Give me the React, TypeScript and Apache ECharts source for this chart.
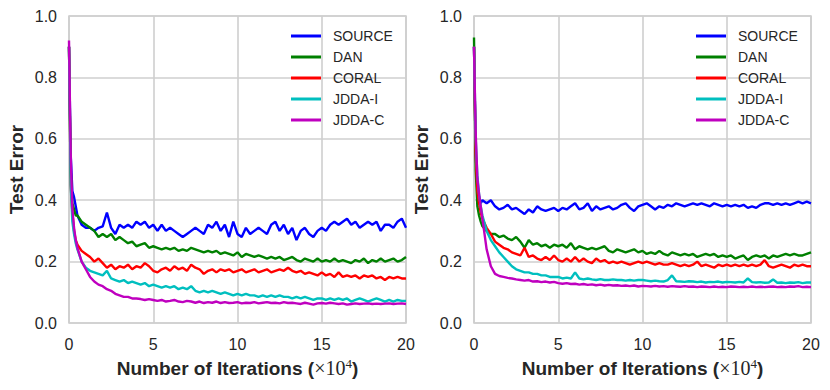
import React, { useEffect, useRef } from "react";
import * as echarts from "echarts";

// x positions (×10^4 iterations)
const X = [
  0, 0.1, 0.2, 0.3, 0.4, 0.5,
  0.75, 1,
  1.25, 1.5, 1.75, 2,
  2.25, 2.5, 2.75, 3,
  3.25, 3.5, 3.75, 4,
  4.25, 4.5, 4.75, 5,
  5.25, 5.5, 5.75, 6,
  6.25, 6.5, 6.75, 7,
  7.25, 7.5, 7.75, 8,
  8.25, 8.5, 8.75, 9,
  9.25, 9.5, 9.75, 10,
  10.25, 10.5, 10.75, 11,
  11.25, 11.5, 11.75, 12,
  12.25, 12.5, 12.75, 13,
  13.25, 13.5, 13.75, 14,
  14.25, 14.5, 14.75, 15,
  15.25, 15.5, 15.75, 16,
  16.25, 16.5, 16.75, 17,
  17.25, 17.5, 17.75, 18,
  18.25, 18.5, 18.75, 19,
  19.25, 19.5, 19.75, 20,
];

const NAMES = ["SOURCE", "DAN", "CORAL", "JDDA-I", "JDDA-C"];
const COLORS = ["#0000ff", "#008000", "#ff0000", "#00bfbf", "#bf00bf"];
const X_TICKS = [0, 5, 10, 15, 20];
const Y_TICKS = [0, 0.2, 0.4, 0.6, 0.8, 1.0];

// ---- left panel ----
const LEFT_SOURCE = [
  0.9, 0.55, 0.43, 0.41, 0.38, 0.35,
  0.32, 0.31,
  0.31, 0.3, 0.31, 0.315,
  0.36, 0.31, 0.29, 0.32,
  0.31, 0.32, 0.31, 0.33,
  0.32, 0.33, 0.31, 0.32,
  0.3, 0.32, 0.3, 0.31,
  0.3, 0.29, 0.28, 0.29,
  0.3, 0.31, 0.3, 0.29,
  0.32, 0.31, 0.33, 0.3,
  0.32, 0.28, 0.33, 0.29,
  0.28, 0.31, 0.29, 0.3,
  0.31, 0.3, 0.29, 0.32,
  0.33, 0.3, 0.32, 0.29,
  0.31, 0.27, 0.3, 0.31,
  0.29, 0.28, 0.3, 0.31,
  0.3, 0.32, 0.33, 0.32,
  0.33, 0.34, 0.32, 0.33,
  0.31, 0.32, 0.33, 0.32,
  0.33, 0.3, 0.32, 0.32,
  0.31, 0.33, 0.34, 0.31,
];
const LEFT_DAN = [
  0.9, 0.5, 0.39, 0.37, 0.35, 0.35,
  0.33, 0.32,
  0.31, 0.3, 0.28, 0.29,
  0.28, 0.29, 0.27, 0.28,
  0.27, 0.26, 0.265, 0.25,
  0.255, 0.26, 0.245, 0.25,
  0.245, 0.24, 0.245, 0.24,
  0.245, 0.235, 0.24, 0.235,
  0.245, 0.24, 0.235, 0.23,
  0.235, 0.23, 0.235, 0.225,
  0.23, 0.225, 0.22, 0.23,
  0.215, 0.225, 0.22, 0.215,
  0.22, 0.215, 0.21, 0.215,
  0.21, 0.215, 0.205, 0.21,
  0.215, 0.205, 0.2, 0.21,
  0.205, 0.2, 0.21, 0.2,
  0.205, 0.2, 0.21, 0.2,
  0.205, 0.2, 0.195, 0.205,
  0.2, 0.21, 0.195, 0.205,
  0.2, 0.21, 0.2, 0.205,
  0.21, 0.2, 0.205, 0.215,
];
const LEFT_CORAL = [
  0.9, 0.45, 0.36, 0.3, 0.27, 0.255,
  0.235, 0.225,
  0.215, 0.2, 0.21, 0.195,
  0.18, 0.19, 0.175, 0.185,
  0.18, 0.19, 0.175, 0.185,
  0.18, 0.195, 0.185, 0.17,
  0.165, 0.175, 0.18, 0.17,
  0.185, 0.175, 0.18, 0.17,
  0.19, 0.18, 0.175, 0.16,
  0.17, 0.175, 0.165, 0.175,
  0.17, 0.175, 0.165, 0.17,
  0.175, 0.165, 0.17, 0.175,
  0.165, 0.17, 0.175, 0.165,
  0.17, 0.175, 0.17, 0.18,
  0.17, 0.165, 0.17, 0.16,
  0.165, 0.16, 0.155, 0.165,
  0.155, 0.16, 0.15, 0.165,
  0.15, 0.155, 0.15, 0.155,
  0.145, 0.155, 0.15, 0.155,
  0.145, 0.15, 0.14, 0.15,
  0.145, 0.15, 0.145, 0.145,
];
const LEFT_JDDA_I = [
  0.9, 0.45, 0.33, 0.29, 0.26, 0.24,
  0.2, 0.18,
  0.17, 0.165, 0.16, 0.155,
  0.17, 0.145, 0.14, 0.135,
  0.14, 0.13, 0.135, 0.13,
  0.125, 0.13, 0.12, 0.125,
  0.12, 0.115, 0.12, 0.115,
  0.12, 0.11, 0.115, 0.11,
  0.12, 0.105, 0.1, 0.105,
  0.1, 0.105, 0.1, 0.095,
  0.1, 0.095, 0.09, 0.095,
  0.09, 0.095, 0.09, 0.09,
  0.085, 0.09, 0.085, 0.09,
  0.085, 0.09, 0.085, 0.085,
  0.08, 0.085, 0.08, 0.085,
  0.08, 0.075, 0.08, 0.08,
  0.075, 0.08, 0.075, 0.08,
  0.075, 0.08, 0.07, 0.075,
  0.08, 0.075, 0.07, 0.075,
  0.08, 0.075, 0.07, 0.075,
  0.07, 0.075, 0.072, 0.072,
];
const LEFT_JDDA_C = [
  0.92, 0.55, 0.37, 0.31, 0.27, 0.245,
  0.2, 0.175,
  0.15, 0.135, 0.125, 0.12,
  0.11, 0.105, 0.095, 0.09,
  0.085, 0.085, 0.08, 0.08,
  0.078, 0.075, 0.078, 0.075,
  0.072, 0.075, 0.07, 0.072,
  0.075, 0.07, 0.068, 0.072,
  0.07, 0.066, 0.07, 0.065,
  0.068, 0.066, 0.07, 0.065,
  0.068, 0.065, 0.066, 0.068,
  0.064, 0.066, 0.065, 0.068,
  0.064, 0.066, 0.068, 0.065,
  0.066, 0.064, 0.068, 0.065,
  0.066, 0.064, 0.062, 0.066,
  0.063, 0.06, 0.064, 0.065,
  0.063, 0.066, 0.064, 0.062,
  0.064, 0.06, 0.062, 0.064,
  0.062, 0.063, 0.064, 0.062,
  0.063, 0.062, 0.063, 0.064,
  0.062, 0.063, 0.064, 0.062,
];

// ---- right panel ----
const RIGHT_SOURCE = [
  0.9, 0.55, 0.45, 0.41, 0.39, 0.4,
  0.39, 0.4,
  0.38, 0.37, 0.375, 0.385,
  0.37, 0.375, 0.365, 0.355,
  0.37, 0.36, 0.38, 0.37,
  0.365, 0.37, 0.375, 0.365,
  0.375, 0.37, 0.38, 0.39,
  0.37, 0.375, 0.39, 0.365,
  0.38, 0.37, 0.375, 0.38,
  0.37, 0.375, 0.385, 0.39,
  0.375, 0.365, 0.38, 0.385,
  0.39, 0.38, 0.37, 0.38,
  0.375, 0.385, 0.38, 0.39,
  0.385, 0.38, 0.385, 0.39,
  0.385, 0.39, 0.385, 0.38,
  0.39, 0.385, 0.38, 0.385,
  0.38, 0.385, 0.38, 0.385,
  0.375, 0.38, 0.375, 0.385,
  0.39, 0.39, 0.385, 0.39,
  0.385, 0.39, 0.385, 0.39,
  0.395, 0.39, 0.395, 0.39,
];
const RIGHT_DAN = [
  0.93, 0.5, 0.38, 0.35, 0.33, 0.315,
  0.3, 0.29,
  0.29, 0.28, 0.285, 0.275,
  0.27, 0.28, 0.265, 0.245,
  0.27, 0.255, 0.26, 0.25,
  0.255, 0.245, 0.255, 0.25,
  0.255, 0.245, 0.26, 0.24,
  0.25, 0.245, 0.24, 0.245,
  0.24, 0.245, 0.25, 0.235,
  0.23, 0.24, 0.235, 0.23,
  0.235, 0.24, 0.23, 0.235,
  0.225, 0.23, 0.225, 0.235,
  0.225, 0.22, 0.23, 0.225,
  0.22, 0.225, 0.22, 0.225,
  0.215, 0.22, 0.225, 0.22,
  0.225, 0.215, 0.22, 0.215,
  0.22, 0.21, 0.215, 0.22,
  0.205, 0.215, 0.22, 0.215,
  0.22, 0.21, 0.22, 0.215,
  0.22, 0.225, 0.22, 0.225,
  0.22, 0.22, 0.225, 0.23,
];
const RIGHT_CORAL = [
  0.9, 0.55, 0.43, 0.39, 0.36, 0.34,
  0.31, 0.29,
  0.265, 0.255, 0.245, 0.24,
  0.23, 0.225, 0.22, 0.245,
  0.215, 0.22, 0.21, 0.205,
  0.215, 0.205, 0.22, 0.205,
  0.2, 0.21, 0.2, 0.215,
  0.2, 0.21, 0.2, 0.195,
  0.21, 0.2, 0.205, 0.195,
  0.2, 0.195, 0.2, 0.195,
  0.19, 0.195, 0.2, 0.195,
  0.2, 0.195, 0.19, 0.195,
  0.19, 0.19, 0.195, 0.19,
  0.185, 0.19, 0.185, 0.19,
  0.2, 0.185, 0.19, 0.185,
  0.18, 0.19, 0.185, 0.19,
  0.185, 0.19, 0.185, 0.19,
  0.185, 0.19, 0.185, 0.19,
  0.205, 0.185, 0.18, 0.185,
  0.19, 0.185, 0.18, 0.19,
  0.185, 0.19, 0.185, 0.185,
];
const RIGHT_JDDA_I = [
  0.9, 0.6, 0.48, 0.42, 0.38, 0.35,
  0.3, 0.27,
  0.25, 0.23, 0.215, 0.2,
  0.185, 0.175, 0.17, 0.165,
  0.165, 0.16, 0.16, 0.155,
  0.155, 0.15, 0.15, 0.15,
  0.145, 0.148, 0.145, 0.165,
  0.145, 0.142, 0.145, 0.142,
  0.14, 0.143, 0.14, 0.14,
  0.142, 0.14, 0.14, 0.138,
  0.14, 0.138, 0.14, 0.14,
  0.138, 0.136, 0.138, 0.136,
  0.135, 0.14, 0.155, 0.136,
  0.135, 0.134, 0.136, 0.135,
  0.133, 0.135, 0.132, 0.134,
  0.133, 0.135, 0.132, 0.134,
  0.133, 0.132, 0.134, 0.132,
  0.145, 0.133, 0.132, 0.133,
  0.131, 0.132, 0.142, 0.131,
  0.132, 0.13, 0.132, 0.131,
  0.133, 0.13, 0.132, 0.132,
];
const RIGHT_JDDA_C = [
  0.9, 0.62, 0.47, 0.42, 0.38, 0.34,
  0.24, 0.185,
  0.16, 0.153, 0.15, 0.147,
  0.145, 0.142, 0.14, 0.138,
  0.14, 0.135, 0.136, 0.133,
  0.135, 0.132, 0.134, 0.13,
  0.128, 0.13, 0.127, 0.128,
  0.125, 0.127, 0.124, 0.126,
  0.123, 0.125, 0.122, 0.124,
  0.122, 0.123, 0.121, 0.122,
  0.12, 0.122, 0.119, 0.121,
  0.12, 0.119, 0.121, 0.119,
  0.12, 0.118, 0.12, 0.119,
  0.118, 0.12, 0.118, 0.119,
  0.117, 0.119, 0.118, 0.117,
  0.119, 0.117, 0.118, 0.117,
  0.119, 0.118, 0.117, 0.118,
  0.117, 0.119, 0.117, 0.118,
  0.117, 0.118, 0.119, 0.117,
  0.118, 0.117, 0.119, 0.118,
  0.12, 0.117, 0.118, 0.117,
];

const LEFT = [LEFT_SOURCE, LEFT_DAN, LEFT_CORAL, LEFT_JDDA_I, LEFT_JDDA_C];
const RIGHT = [RIGHT_SOURCE, RIGHT_DAN, RIGHT_CORAL, RIGHT_JDDA_I, RIGHT_JDDA_C];

const TEXT = "#262626";
const GRID = "#cfcfcf";
const SANS = "'Liberation Sans', Arial, sans-serif";

function makeXAxis(gridIndex: number) {
  return {
    type: "value",
    gridIndex,
    min: X_TICKS[0],
    max: X_TICKS[X_TICKS.length - 1],
    interval: 5,
    name: "{b|Number of Iterations (}{m|×10}{s|4}{b|)}",
    nameLocation: "middle",
    nameGap: 32,
    nameTextStyle: {
      rich: {
        b: { fontFamily: SANS, fontWeight: "bold", fontSize: 19, color: TEXT },
        m: { fontFamily: "'Liberation Serif', serif", fontSize: 20, color: TEXT },
        s: { fontFamily: "'Liberation Serif', serif", fontSize: 13, color: TEXT, verticalAlign: "top", padding: [0, 0, 10, 0] },
      },
    },
    axisLine: { show: false },
    axisTick: { show: false },
    axisLabel: { color: TEXT, fontSize: 16, fontFamily: SANS, margin: 13 },
    splitLine: { show: true, lineStyle: { color: GRID, width: 1.6 } },
  };
}

function makeYAxis(gridIndex: number) {
  return {
    type: "value",
    gridIndex,
    min: Y_TICKS[0],
    max: Y_TICKS[Y_TICKS.length - 1],
    interval: 0.2,
    name: "Test Error",
    nameLocation: "middle",
    nameGap: 43,
    nameTextStyle: { fontFamily: SANS, fontWeight: "bold", fontSize: 19, color: TEXT },
    axisLine: { show: false },
    axisTick: { show: false },
    axisLabel: {
      color: TEXT,
      fontSize: 16,
      fontFamily: SANS,
      margin: 12,
      formatter: (v: number) => v.toFixed(1),
    },
    splitLine: { show: true, lineStyle: { color: GRID, width: 1.6 } },
  };
}

function makeSeries(panel: number[][], idx: number) {
  return panel.map((vals, i) => ({
    name: NAMES[i],
    type: "line",
    xAxisIndex: idx,
    yAxisIndex: idx,
    data: X.map((x, k) => [x, vals[k]]),
    symbol: "none",
    showSymbol: false,
    lineStyle: { color: COLORS[i], width: 2.4 },
    itemStyle: { color: COLORS[i] },
    emphasis: { disabled: true },
    z: 2 + i,
  }));
}

function makeLegend(left: number) {
  return {
    left,
    top: 24,
    orient: "vertical",
    icon: "path://M0,0H30V3H0Z",
    itemWidth: 30,
    itemHeight: 14,
    itemGap: 7,
    data: NAMES,
    selectedMode: false,
    textStyle: { color: TEXT, fontSize: 14, fontFamily: SANS, padding: [0, 0, 0, 7] },
  };
}

export default function App() {
  const ref = useRef<HTMLDivElement>(null);
  useEffect(() => {
    if (!ref.current) return;
    const chart = echarts.init(ref.current, null, { renderer: "svg" });
    chart.setOption({
      animation: false,
      backgroundColor: "#ffffff",
      grid: [
        { left: 69, top: 16, width: 337, height: 307, show: true, borderColor: GRID, borderWidth: 1.6, backgroundColor: "transparent" },
        { left: 474, top: 16, width: 337, height: 307, show: true, borderColor: GRID, borderWidth: 1.6, backgroundColor: "transparent" },
      ],
      xAxis: [makeXAxis(0), makeXAxis(1)],
      yAxis: [makeYAxis(0), makeYAxis(1)],
      legend: [makeLegend(286), makeLegend(691)],
      series: [...makeSeries(LEFT, 0), ...makeSeries(RIGHT, 1)],
    });
    return () => chart.dispose();
  }, []);
  return (
    <div
      ref={ref}
      style={{ position: "fixed", left: 0, top: 0, width: 830, height: 390, background: "#fff" }}
    />
  );
}
